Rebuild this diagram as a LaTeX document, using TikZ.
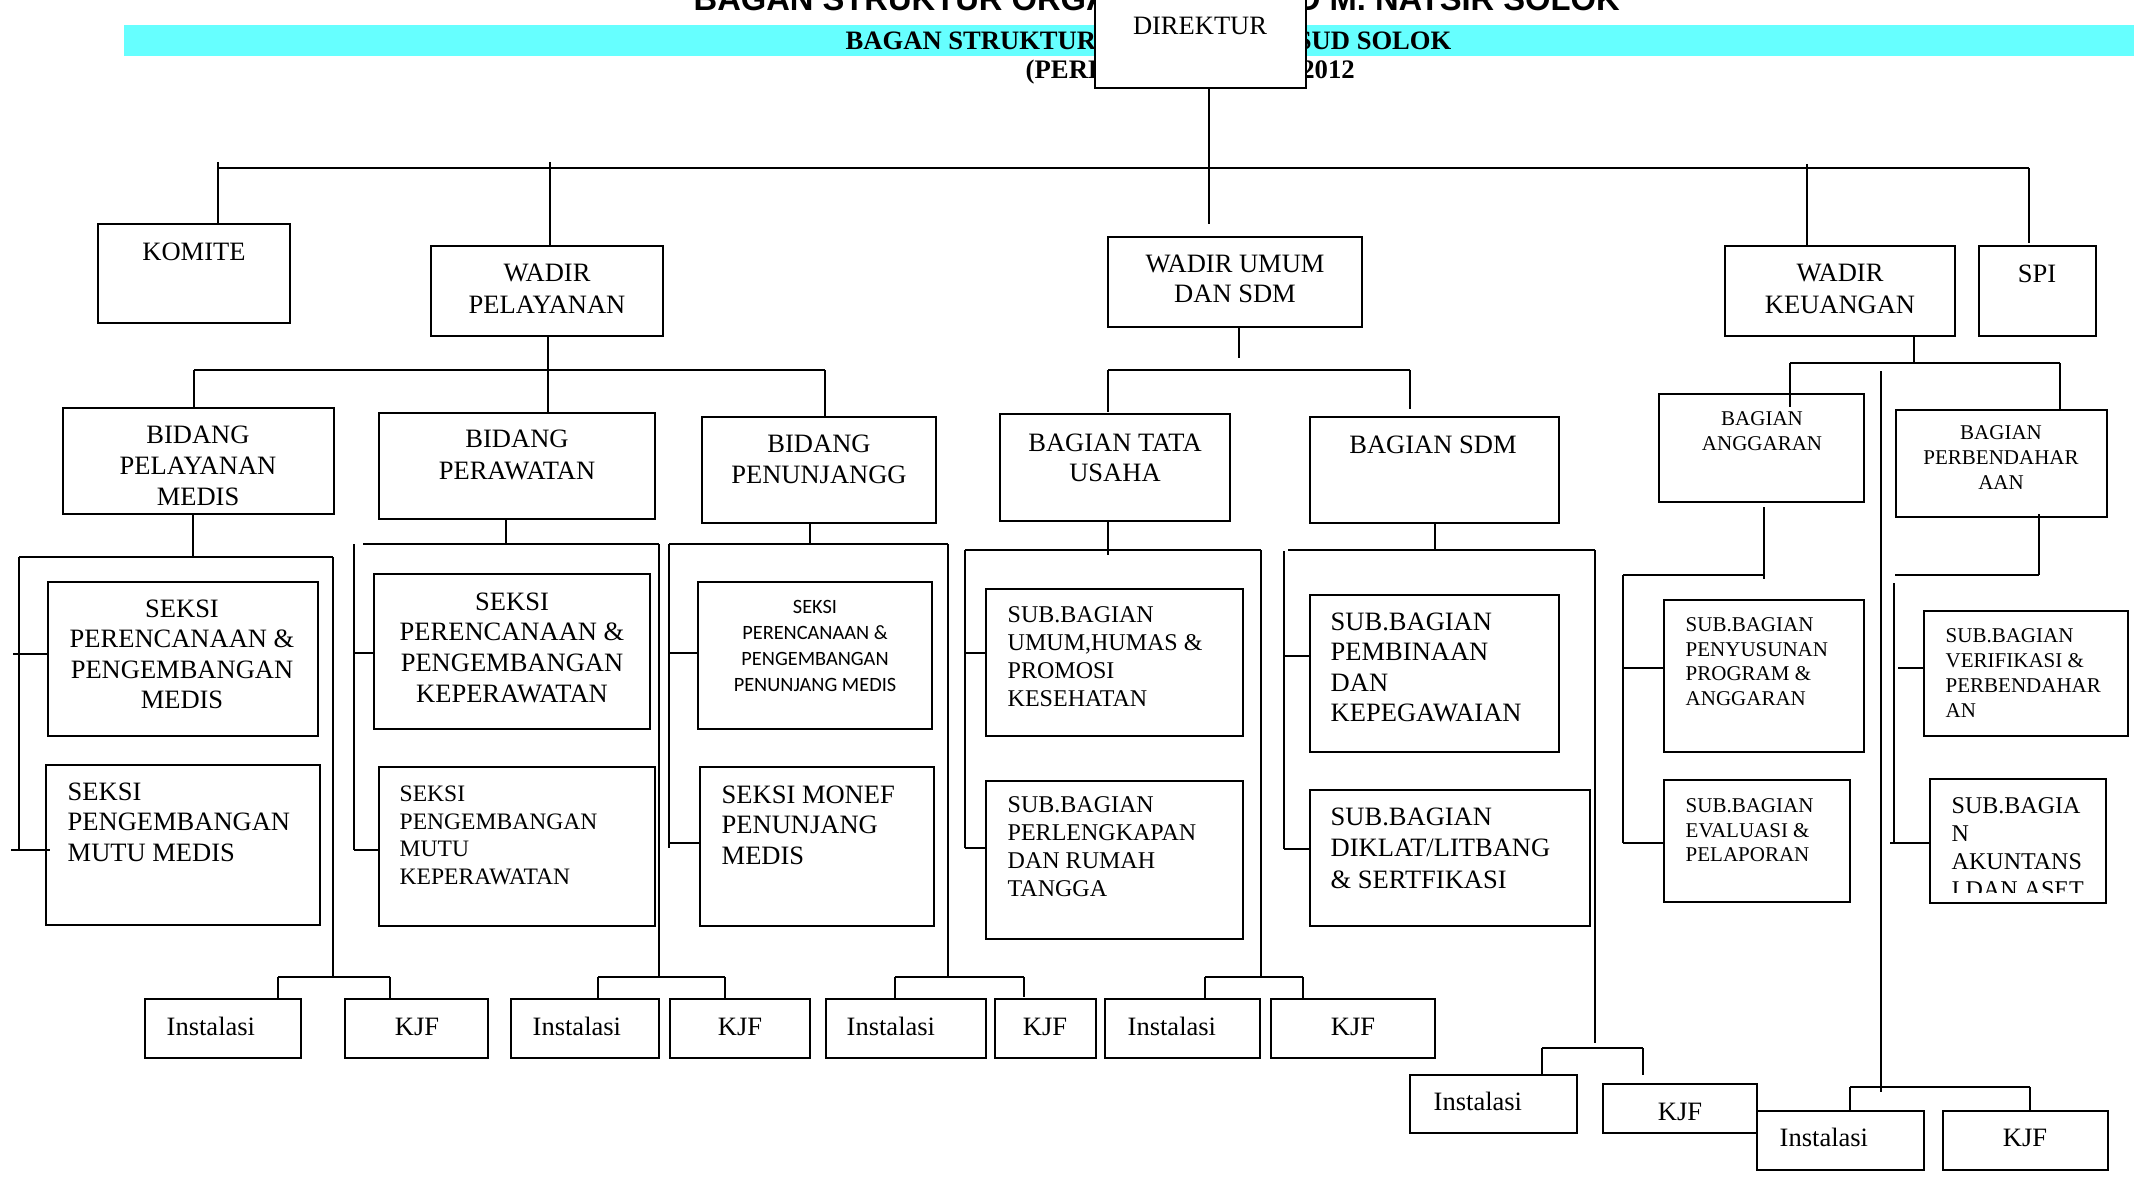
\documentclass[tikz,border=0pt]{standalone}
\usepackage{fontspec}
\setmainfont{Liberation Serif}
\newfontfamily\myarial{Liberation Sans}
\newfontfamily\mycarl{Carlito}
\definecolor{cyanbar}{RGB}{102,255,255}
\newcommand\myfstd{\fontsize{7.54}{8.8}\selectfont}
\newcommand\myfmid{\fontsize{6.83}{7.95}\selectfont}
\newcommand\myfsml{\fontsize{5.97}{6.97}\selectfont}
\newcommand\myfsan{\mycarl\fontsize{5.78}{7.4}\selectfont}
\newcommand\mybox[5]{\node[box, minimum width={(#4-#2)*0.01cm}, minimum height={(#5-#3)*0.01cm}] (#1) at (#2,#3) {};}
\tikzset{
  box/.style={draw, line width=0.45pt, fill=white, inner sep=0pt, outer sep=0pt, anchor=north west},
  ln/.style={line width=0.4pt},
  bar/.style={line width=0.55pt},
  tc/.style={inner sep=0pt, anchor=north, align=center, font=\myfstd},
  tl/.style={inner sep=0pt, anchor=north west, align=left, font=\myfstd},
  tb/.style={inner sep=0pt, anchor=base west, font=\myfstd},
  tbc/.style={inner sep=0pt, anchor=base, font=\myfstd},
}
\begin{document}
\begin{tikzpicture}[x=0.01cm, y=-0.01cm]
\useasboundingbox (0,0) rectangle (2134,1176);
\fill[white] (0,0) rectangle (2134,1176);
% title band
\fill[cyanbar] (124,25) rectangle (2134,56);
\node[inner sep=0pt, anchor=base west, font={\myarial\bfseries\fontsize{9.3}{11}\selectfont}] (title0) at (693,11) {BAGAN STRUKTUR ORGANISASI RSUD M. NATSIR SOLOK};
\node[inner sep=0pt, anchor=base west, font={\bfseries\fontsize{7.56}{9}\selectfont}] (title1) at (845,50) {BAGAN STRUKTUR ORGANISASI RSUD SOLOK};
\node[inner sep=0pt, anchor=base west, font={\bfseries\fontsize{7.6}{9}\selectfont}] (title2) at (1025,79) {(PERDA NO 9 TAHUN 2012};
% boxes
\mybox{dir}{1095}{-20}{1306}{88}
\mybox{komite}{98}{224}{290}{323}
\mybox{wp}{431}{246}{663}{336}
\mybox{wu}{1108}{237}{1362}{327}
\mybox{wk}{1725}{246}{1955}{336}
\mybox{spi}{1979}{246}{2096}{336}
\mybox{bpm}{63}{408}{334}{514}
\mybox{bper}{379}{413}{655}{519}
\mybox{bpen}{702}{417}{936}{523}
\mybox{btu}{1000}{414}{1230}{521}
\mybox{bsdm}{1310}{417}{1559}{523}
\mybox{bang}{1659}{394}{1864}{502}
\mybox{bperb}{1896}{410}{2107}{517}
\mybox{s1}{48}{582}{318}{736}
\mybox{s2}{46}{765}{320}{925}
\mybox{s3}{374}{574}{650}{729}
\mybox{s4}{379}{767}{655}{926}
\mybox{s5}{698}{582}{932}{729}
\mybox{s6}{700}{767}{934}{926}
\mybox{s7}{986}{589}{1243}{736}
\mybox{s8}{986}{781}{1243}{939}
\mybox{s9}{1310}{595}{1559}{752}
\mybox{s10}{1310}{790}{1590}{926}
\mybox{s11}{1664}{600}{1864}{752}
\mybox{s12}{1664}{780}{1850}{902}
\mybox{s13}{1924}{611}{2128}{736}
\mybox{s14}{1930}{779}{2106}{903}
\mybox{i1}{145}{999}{301}{1058}
\mybox{k1}{345}{999}{488}{1058}
\mybox{i2}{511}{999}{659}{1058}
\mybox{k2}{670}{999}{810}{1058}
\mybox{i3}{826}{999}{986}{1058}
\mybox{k3}{995}{999}{1096}{1058}
\mybox{i4}{1105}{999}{1260}{1058}
\mybox{k4}{1271}{999}{1435}{1058}
\mybox{i5}{1410}{1075}{1577}{1133}
\mybox{k5}{1603}{1084}{1757}{1133}
\mybox{i6}{1757}{1111}{1924}{1170}
\mybox{k6}{1943}{1111}{2108}{1170}
% top connectors
\coordinate (topL) at (218,168);
\coordinate (topR) at (2029,168);
\draw[bar] (topL) -- (topR);
\draw[ln] (1209,0 |- dir.south) -- (1209,224);
\draw[ln] (218,162) -- (218,0 |- komite.north);
\draw[ln] (550,162) -- (550,0 |- wp.north);
\draw[ln] (1807,164) -- (1807,0 |- wk.north);
\draw[ln] (topR) -- (2029,243);
% pelayanan
\draw[ln] (548,0 |- wp.south) -- (548,0 |- bper.north);
\draw[bar] (194,370) -- (825,370);
\draw[ln] (194,370) -- (194,0 |- bpm.north);
\draw[ln] (825,370) -- (825,0 |- bpen.north);
% bidang pelayanan medis
\draw[ln] (193,0 |- bpm.south) -- (193,557);
\draw[bar] (19,557) -- (333,557);
\draw[ln] (19,557) -- (19,850);
\draw[ln] (13,654) -- (13,654 -| s1.west);
\draw[ln] (11,850) -- (50,850);
\draw[ln] (333,557) -- (333,977);
\draw[bar] (278,977) -- (390,977);
\draw[ln] (278,977) -- (278,0 |- i1.north);
\draw[ln] (390,977) -- (390,0 |- k1.north);
% bidang perawatan
\draw[ln] (506,0 |- bper.south) -- (506,544);
\draw[bar] (363,544) -- (659,544);
\draw[ln] (354,544) -- (354,850);
\draw[ln] (354,653) -- (354,653 -| s3.west);
\draw[ln] (354,850) -- (354,850 -| s4.west);
\draw[ln] (659,544) -- (659,977);
\draw[bar] (598,977) -- (725,977);
\draw[ln] (598,977) -- (598,0 |- i2.north);
\draw[ln] (725,977) -- (725,0 |- k2.north);
% bidang penunjang
\draw[ln] (810,0 |- bpen.south) -- (810,544);
\draw[bar] (669,544) -- (948,544);
\draw[ln] (669,544) -- (669,848);
\draw[ln] (669,653) -- (669,653 -| s5.west);
\draw[ln] (669,843) -- (669,843 -| s6.west);
\draw[ln] (948,544) -- (948,977);
\draw[bar] (895,977) -- (1024,977);
\draw[ln] (895,977) -- (895,0 |- i3.north);
\draw[ln] (1024,977) -- (1024,997);
% wadir umum
\draw[ln] (1239,0 |- wu.south) -- (1239,358);
\draw[bar] (1108,370) -- (1410,370);
\draw[ln] (1108,370) -- (1108,412);
\draw[ln] (1410,370) -- (1410,409);
% tata usaha
\draw[ln] (1108,0 |- btu.south) -- (1108,555);
\draw[bar] (965,550) -- (1261,550);
\draw[ln] (965,550) -- (965,848);
\draw[ln] (965,653) -- (965,653 -| s7.west);
\draw[ln] (965,848) -- (965,848 -| s8.west);
\draw[ln] (1261,550) -- (1261,977);
\draw[bar] (1205,977) -- (1303,977);
\draw[ln] (1205,977) -- (1205,0 |- i4.north);
\draw[ln] (1303,977) -- (1303,0 |- k4.north);
% sdm
\draw[ln] (1435,0 |- bsdm.south) -- (1435,550);
\draw[bar] (1288,550) -- (1595,550);
\draw[ln] (1284,551) -- (1284,849);
\draw[ln] (1284,656) -- (1284,656 -| s9.west);
\draw[ln] (1284,849) -- (1284,849 -| s10.west);
\draw[ln] (1595,550) -- (1595,1043);
\draw[bar] (1542,1048) -- (1643,1048);
\draw[ln] (1542,1048) -- (1542,0 |- i5.north);
\draw[ln] (1643,1048) -- (1643,1075);
% keuangan
\draw[ln] (1914,0 |- wk.south) -- (1914,363);
\draw[bar] (1790,363) -- (2060,363);
\draw[ln] (1790,363) -- (1790,407);
\draw[ln] (2060,363) -- (2060,0 |- bperb.north);
\draw[ln] (1881,371) -- (1881,1092);
\draw[bar] (1850,1087) -- (2030,1087);
\draw[ln] (1850,1087) -- (1850,0 |- i6.north);
\draw[ln] (2030,1087) -- (2030,0 |- k6.north);
\draw[ln] (1764,507) -- (1764,579);
\draw[bar] (1623,575) -- (1764,575);
\draw[ln] (1623,575) -- (1623,843);
\draw[ln] (1623,668) -- (1623,668 -| s11.west);
\draw[ln] (1623,843) -- (1623,843 -| s12.west);
\draw[ln] (2039,514) -- (2039,575);
\draw[bar] (1895,575) -- (2039,575);
\draw[ln] (1894,583) -- (1894,843);
\draw[ln] (1898,668) -- (1898,668 -| s13.west);
\draw[ln] (1890,843) -- (1890,843 -| s14.west);
% texts
\node[tc] (dir-t) at (1200,16) {DIREKTUR};
\node[tc] (komite-t) at (194,242) {KOMITE};
\node[tc, font={\fontsize{7.54}{9.1}\selectfont}] (wp-t) at (547,263) {WADIR\\PELAYANAN};
\node[tc, font={\fontsize{7.54}{8.5}\selectfont}] (wu-t) at (1235,254) {WADIR UMUM\\DAN SDM};
\node[tc, font={\fontsize{7.54}{9.1}\selectfont}] (wk-t) at (1840,263) {WADIR\\KEUANGAN};
\node[tc] (spi-t) at (2037,264) {SPI};
\node[tc] (bpm-t) at (198,425) {BIDANG\\PELAYANAN\\MEDIS};
\node[tc, font={\fontsize{7.54}{9.1}\selectfont}] (bper-t) at (517,429) {BIDANG\\PERAWATAN};
\node[tc] (bpen-t) at (819,434) {BIDANG\\PENUNJANGG};
\node[tc, font={\fontsize{7.54}{8.5}\selectfont}] (btu-t) at (1115,433) {BAGIAN TATA\\USAHA};
\node[tc] (bsdm-t) at (1433,435) {BAGIAN SDM};
\node[tc, font=\myfsml] (bang-t) at (1762,411) {BAGIAN\\ANGGARAN};
\node[tc, font={\fontsize{5.97}{7.1}\selectfont}] (bperb-t) at (2001,425) {BAGIAN\\PERBENDAHAR\\AAN};
\node[tc, font={\fontsize{7.54}{8.68}\selectfont}] (s1-t) at (182,599) {SEKSI\\PERENCANAAN \&\\PENGEMBANGAN\\MEDIS};
\node[tl, font={\fontsize{7.54}{8.68}\selectfont}] (s2-t) at (67,782) {SEKSI\\PENGEMBANGAN\\MUTU MEDIS};
\node[tc, font={\fontsize{7.54}{8.73}\selectfont}] (s3-t) at (512,592) {SEKSI\\PERENCANAAN \&\\PENGEMBANGAN\\KEPERAWATAN};
\node[tl, font={\fontsize{6.7}{7.88}\selectfont}] (s4-t) at (399,785) {SEKSI\\PENGEMBANGAN\\MUTU\\KEPERAWATAN};
\node[tc, font=\myfsan] (s5-t) at (815,600) {SEKSI\\PERENCANAAN \&\\PENGEMBANGAN\\PENUNJANG MEDIS};
\node[tl, font={\fontsize{7.54}{8.68}\selectfont}] (s6-t) at (721,785) {SEKSI MONEF\\PENUNJANG\\MEDIS};
\node[tl, font=\myfmid] (s7-t) at (1007,606) {SUB.BAGIAN\\UMUM,HUMAS \&\\PROMOSI\\KESEHATAN};
\node[tl, font=\myfmid] (s8-t) at (1007,796) {SUB.BAGIAN\\PERLENGKAPAN\\DAN RUMAH\\TANGGA};
\node[tl, font={\fontsize{7.54}{8.68}\selectfont}] (s9-t) at (1330,612) {SUB.BAGIAN\\PEMBINAAN\\DAN\\KEPEGAWAIAN};
\node[tl, font={\fontsize{7.54}{8.96}\selectfont}] (s10-t) at (1330,807) {SUB.BAGIAN\\DIKLAT/LITBANG\\\& SERTFIKASI};
\node[tl, font=\myfsml] (s11-t) at (1685,617) {SUB.BAGIAN\\PENYUSUNAN\\PROGRAM \&\\ANGGARAN};
\node[tl, font=\myfsml] (s12-t) at (1685,798) {SUB.BAGIAN\\EVALUASI \&\\PELAPORAN};
\node[tl, font={\fontsize{5.97}{7.1}\selectfont}] (s13-t) at (1945,628) {SUB.BAGIAN\\VERIFIKASI \&\\PERBENDAHAR\\AN};
\begin{scope}
\clip (1930,779) rectangle (2106,892);
\node[tl, font=\myfmid] (s14-t) at (1951,797) {SUB.BAGIA\\N\\AKUNTANS\\I DAN ASET};
\end{scope}
\node[tb] (i1-t) at (166,1035) {Instalasi};
\node[tbc] (k1-t) at (417,1035) {KJF};
\node[tb] (i2-t) at (532,1035) {Instalasi};
\node[tbc] (k2-t) at (740,1035) {KJF};
\node[tb] (i3-t) at (846,1035) {Instalasi};
\node[tbc] (k3-t) at (1045,1035) {KJF};
\node[tb] (i4-t) at (1127,1035) {Instalasi};
\node[tbc] (k4-t) at (1353,1035) {KJF};
\node[tb] (i5-t) at (1433,1110) {Instalasi};
\node[tbc] (k5-t) at (1680,1120) {KJF};
\node[tb] (i6-t) at (1779,1146) {Instalasi};
\node[tbc] (k6-t) at (2025,1146) {KJF};
\end{tikzpicture}
\end{document}
